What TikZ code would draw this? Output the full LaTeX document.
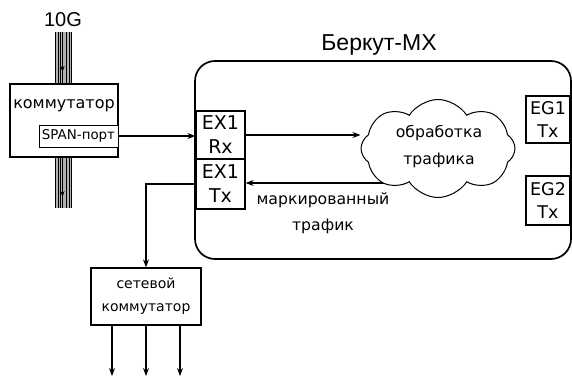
\documentclass[tikz,border=0pt]{standalone}
\usepackage{fontspec}
\setmainfont{DejaVu Sans}
\newfontfamily\arialf{Liberation Sans}
\usetikzlibrary{shapes.symbols,arrows.meta}
\tikzset{
  box/.style={draw,line width=1.2pt,fill=white,inner sep=0pt},
  arr/.style={line width=1.1pt,-{Stealth[length=8pt,width=6pt]}},
  ln/.style={line width=1.1pt},
  lbl/.style={inner sep=0pt,align=center},
}
\begin{document}
\begin{tikzpicture}[x=1pt,y=-1pt]
\useasboundingbox (0,0) rectangle (572,377);
% big box
\node[draw,line width=1.7pt,rounded corners=20pt,minimum width=376pt,minimum height=198pt,inner sep=0pt] (bm) at (383,160) {};
\node[lbl,font=\arialf\fontsize{23}{28}\selectfont] (bmt) at (379,45) {Беркут-MX};
% 10G cable
\node[lbl,font=\arialf\fontsize{20}{23}\selectfont] (g10) at (63,20) {10G};
\foreach \ya/\yb in {32/84,157/208}{
  \fill[gray!60] (55,\ya) rectangle (72,\yb);
  \foreach \xx in {55.5,58.5,62.5,66.5,71.5}
    \draw[line width=0.9pt] (\xx,\ya) -- (\xx,\yb);
  \draw[line width=0.5pt] (60.5,\ya) -- (60.5,\yb);
  \draw[line width=0.5pt] (69,\ya) -- (69,\yb);
}
\coordinate (c1) at (62.5,40);
\coordinate (c1e) at (62.5,72);
\coordinate (c2) at (62.5,165);
\coordinate (c2e) at (62.5,197);
\draw[line width=1pt,-{Stealth[length=6pt,width=4pt]}] (c1) -- (c1e);
\draw[line width=1pt,-{Stealth[length=6pt,width=4pt]}] (c2) -- (c2e);
% switch
\node[box,minimum width=108pt,minimum height=73pt] (sw) at (64,120.5) {};
\node[lbl,font=\fontsize{16}{20}\selectfont] (swt) at (64,106) {коммутатор};
\node[box,line width=1pt,minimum width=79pt,minimum height=22pt,font=\fontsize{13.4}{16}\selectfont] (span) at (78.5,136) {SPAN-порт};
% ports
\node[box,minimum width=49pt,minimum height=48pt,font=\fontsize{19}{24}\selectfont,align=center] (rx) at (220.5,135) {EX1\\Rx};
\node[box,minimum width=49pt,minimum height=50pt,font=\fontsize{19}{24}\selectfont,align=center] (tx) at (220.5,184) {EX1\\Tx};
\node[box,minimum width=44pt,minimum height=47pt,font=\fontsize{17.5}{23}\selectfont,align=center] (eg1) at (548,119.5) {EG1\\Tx};
\node[box,minimum width=44pt,minimum height=49pt,font=\fontsize{17.5}{23}\selectfont,align=center] (eg2) at (548,200.5) {EG2\\Tx};
% return arrow (drawn before cloud)
\coordinate (ret) at (400,183);
\draw[arr] (ret) -- (tx.east |- ret);
% cloud
\node[cloud,draw,line width=1pt,fill=white,cloud puffs=8,cloud puff arc=115,aspect=1.6,minimum width=154pt,minimum height=98pt,inner sep=0pt,shape border rotate=10] (cl) at (438,148.5) {};
\node[lbl,font=\fontsize{15.7}{27}\selectfont] (clt) at (439,147) {обработка\\трафика};
\draw[arr] (rx.east) -- (rx.east -| cl.west);
\node[lbl,font=\fontsize{15.7}{26}\selectfont] (mt) at (323,213) {маркированный\\трафик};
\draw[arr] (span.east) -- (rx.west |- span.east);
% net switch
\node[box,minimum width=110pt,minimum height=57pt,font=\fontsize{14}{23}\selectfont,align=center] (ns) at (146,296.5) {сетевой\\коммутатор};
\draw[arr] (tx.west) -| (ns.north);
\coordinate (o1) at (112,376);
\coordinate (o2) at (146,376);
\coordinate (o3) at (180,376);
\draw[arr] (ns.south -| o1) -- (o1);
\draw[arr] (ns.south -| o2) -- (o2);
\draw[arr] (ns.south -| o3) -- (o3);
\end{tikzpicture}
\end{document}
